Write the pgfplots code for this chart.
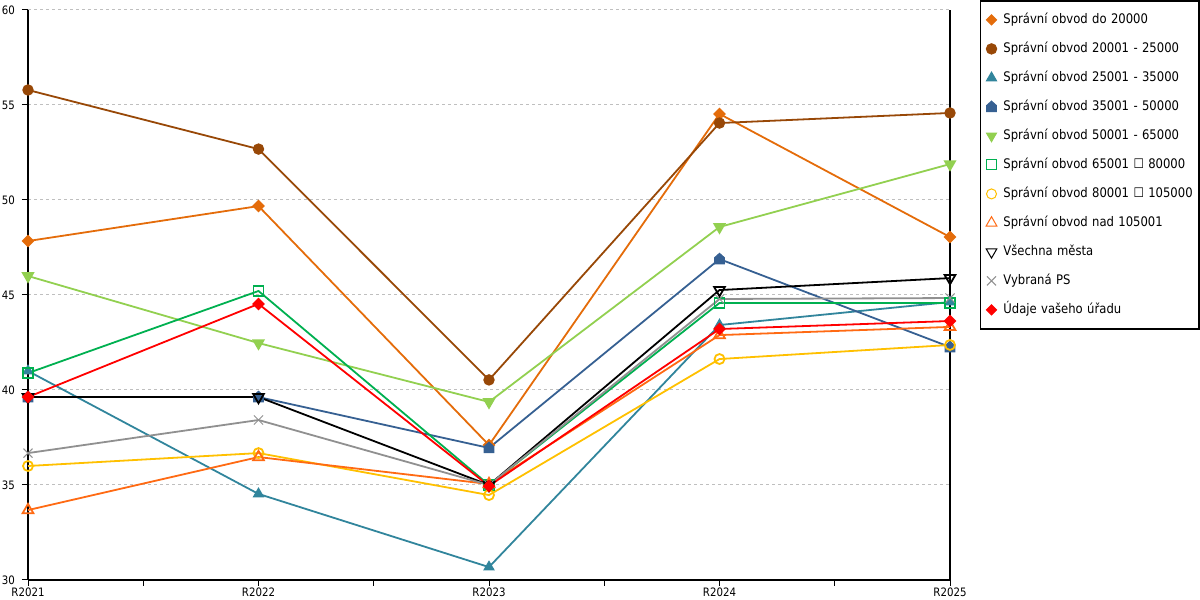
\documentclass[border=0pt]{standalone}
\usepackage{fontspec}
\setmainfont{DejaVu Sans}[FakeStretch=0.88]
\usepackage{pgfplots}
\pgfplotsset{compat=1.18}
\usetikzlibrary{plotmarks}

\pgfdeclareplotmark{house*}{%
 \pgfpathmoveto{\pgfpoint{-\pgfplotmarksize}{-\pgfplotmarksize}}%
 \pgfpathlineto{\pgfpoint{\pgfplotmarksize}{-\pgfplotmarksize}}%
 \pgfpathlineto{\pgfpoint{\pgfplotmarksize}{0.3\pgfplotmarksize}}%
 \pgfpathlineto{\pgfpoint{0pt}{1.2\pgfplotmarksize}}%
 \pgfpathlineto{\pgfpoint{-\pgfplotmarksize}{0.3\pgfplotmarksize}}%
 \pgfpathclose
 \pgfusepathqfillstroke}

\definecolor{c1}{HTML}{E46C0A}
\definecolor{c2}{HTML}{984807}
\definecolor{c3}{HTML}{31859C}
\definecolor{c4}{HTML}{366092}
\definecolor{c5}{HTML}{92D050}
\definecolor{c6}{HTML}{00B050}
\definecolor{c7}{HTML}{FFC000}
\definecolor{c8}{HTML}{FF6A13}
\definecolor{c9}{HTML}{000000}
\definecolor{c10}{HTML}{909090}
\definecolor{c11}{HTML}{FF0000}

\begin{document}
\begin{tikzpicture}
\useasboundingbox (0,0) rectangle (600pt,300pt);
\begin{axis}[
 at={(14pt,10pt)}, anchor=south west,
 scale only axis, width=461pt, height=285pt,
 xmin=0, xmax=4, ymin=30, ymax=60,
 xtick={0,1,2,3,4}, xticklabels={R2021,R2022,R2023,R2024,R2025},
 minor xtick={0.5,1.5,2.5,3.5},
 ytick={30,35,40,45,50,55,60},
 axis x line*=bottom, axis y line*=box,
 axis line style={-, black, line width=0.6pt},
 ytick pos=left,
 tick align=outside, major tick length=3pt, minor tick length=3pt,
 tick style={black, line width=0.5pt},
 ymajorgrids, grid style={gray!50, dash pattern=on 1.5pt off 1.5pt, line width=0.5pt},
 tick label style={font=\fontsize{5.8}{6.5}\selectfont},
 xticklabel style={yshift=2.6pt},
 /pgf/number format/assume math mode=true,
 clip=false,
 every axis plot/.append style={line width=0.9pt},
 /tikz/every mark/.append style={line width=0.5pt},
 legend cell align=left,
 legend style={at={(1.03254,1.0170)}, anchor=north west, draw=black, line width=0.6pt,
   inner xsep=0pt, inner ysep=6.25pt, row sep=8pt, column sep=0pt,
   font=\fontsize{6.6}{7.5}\selectfont,
   nodes={text height=5pt, text depth=1.5pt, inner ysep=0pt, inner xsep=2.5pt, text width=95.3pt}},
 legend image code/.code={\draw[#1, only marks, line width=0.5pt] plot coordinates {(5pt,0pt)}; \path (0pt,0pt) (8pt,0pt);},
]
\addplot[color=c1, mark=square*, mark options={rotate=45}, mark size=1.8pt] coordinates {(0,47.84)(1,49.68)(2,37.1)(3,54.53)(4,48.05)};
\addlegendentry{Správní obvod do 20000}
\addplot[color=c2, mark=*, mark size=2.6pt] coordinates {(0,55.79)(1,52.68)(2,40.53)(3,54.05)(4,54.58)};
\addlegendentry{Správní obvod 20001 - 25000}
\addplot[color=c3, mark=triangle*, mark size=2.9pt] coordinates {(0,41.0)(1,34.53)(2,30.68)(3,43.42)(4,44.63)};
\addlegendentry{Správní obvod 25001 - 35000}
\addplot[color=c4, mark=house*, mark size=2.4pt] coordinates {(0,39.63)(1,39.63)(2,36.95)(3,46.89)(4,42.26)};
\addlegendentry{Správní obvod 35001 - 50000}
\addplot[color=c5, mark=triangle*, mark options={rotate=180}, mark size=2.9pt] coordinates {(0,46.0)(1,42.47)(2,39.37)(3,48.58)(4,51.89)};
\addlegendentry{Správní obvod 50001 - 65000}
\addplot[color=c6, mark=square, mark options={fill=white}, mark size=2.5pt] coordinates {(0,40.89)(1,45.21)(2,35.0)(3,44.58)(4,44.58)};
\addlegendentry{Správní obvod 65001 ☐ 80000}
\addplot[color=c7, mark=o, mark options={fill=white}, mark size=2.5pt] coordinates {(0,36.0)(1,36.68)(2,34.47)(3,41.63)(4,42.37)};
\addlegendentry{Správní obvod 80001 ☐ 105000}
\addplot[color=c8, mark=triangle, mark options={fill=white}, mark size=3.1pt] coordinates {(0,33.68)(1,36.47)(2,35.05)(3,42.89)(4,43.32)};
\addlegendentry{Správní obvod nad 105001}
\addplot[color=c9, mark=triangle, mark options={fill=white, rotate=180}, mark size=3.1pt] coordinates {(0,39.63)(1,39.63)(2,35.0)(3,45.26)(4,45.89)};
\addlegendentry{Všechna města}
\addplot[color=c10, mark=x, mark size=3.2pt] coordinates {(0,36.68)(1,38.42)(2,35.0)(3,44.79)(4,44.84)};
\addlegendentry{Vybraná PS}
\addplot[color=c11, mark=square*, mark options={rotate=45}, mark size=1.8pt] coordinates {(0,39.63)(1,44.53)(2,34.95)(3,43.21)(4,43.63)};
\addlegendentry{Údaje vašeho úřadu}
\end{axis}
\end{tikzpicture}
\end{document}
